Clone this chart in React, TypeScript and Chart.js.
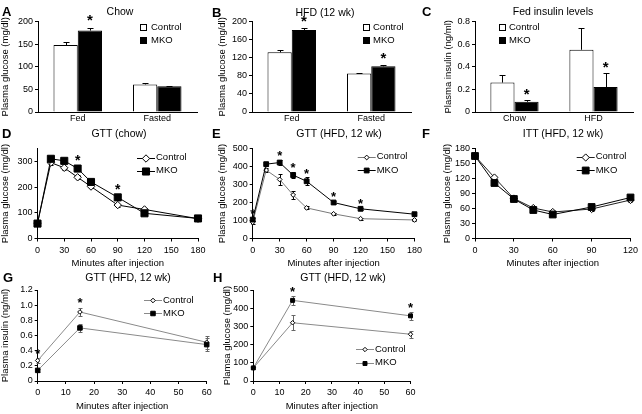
import React, { useEffect, useRef } from "react";
import { Chart, registerables } from "chart.js";

Chart.register(...registerables);

const FONT = "'Liberation Sans', Arial, Helvetica, sans-serif";

// ---------------- data ----------------
// A: Chow
const chowCategories = ["Fed", "Fasted"];
const chowControl = [148, 61];
const chowControlErr = [6, 3];
const chowMKO = [180, 57];
const chowMKOErr = [6, 1];
const chowStars = ["Fed"];

// B: HFD (12 wk)
const hfdCategories = ["Fed", "Fasted"];
const hfdControl = [132, 85];
const hfdControlErr = [4, 1.5];
const hfdMKO = [181, 101];
const hfdMKOErr = [5, 3];
const hfdStars = ["Fed", "Fasted"];

// C: Fed insulin levels
const insulinCategories = ["Chow", "HFD"];
const insulinControl = [0.26, 0.55];
const insulinControlErr = [0.065, 0.19];
const insulinMKO = [0.09, 0.22];
const insulinMKOErr = [0.02, 0.125];
const insulinStars = ["Chow", "HFD"];

// D: GTT (chow)
const gttTimes = [0, 15, 30, 45, 60, 90, 120, 180];
const gttChowControl = [60, 295, 275, 238, 202, 130, 113, 77];
const gttChowControlErr = [5, 8, 8, 8, 6, 6, 6, 4];
const gttChowMKO = [58, 310, 302, 272, 220, 160, 98, 78];
const gttChowMKOErr = [5, 8, 8, 10, 8, 10, 6, 4];
const gttChowStars = [45, 90];

// E: GTT (HFD, 12 wk)
const gttHfdControl = [90, 380, 328, 242, 170, 137, 110, 103];
const gttHfdControlErr = [8, 12, 28, 22, 8, 6, 5, 5];
const gttHfdMKO = [105, 413, 422, 352, 318, 200, 165, 135];
const gttHfdMKOErr = [10, 12, 15, 18, 22, 8, 6, 6];
const gttHfdStars = [0, 30, 45, 60, 90, 120];

// F: ITT (HFD, 12 wk)
const ittTimes = [0, 15, 30, 45, 60, 90, 120];
const ittControl = [165, 122, 80, 61, 53, 59, 77];
const ittControlErr = [4, 4, 3, 3, 3, 3, 3];
const ittMKO = [165, 111, 79, 57, 48, 63, 82];
const ittMKOErr = [4, 4, 3, 3, 3, 3, 3];

// G: GTT insulin (HFD, 12 wk)
const shortTimes = [0, 15, 60];
const gttInsulinControl = [0.27, 0.91, 0.51];
const gttInsulinControlErr = [0.03, 0.05, 0.09];
const gttInsulinMKO = [0.14, 0.7, 0.48];
const gttInsulinMKOErr = [0.02, 0.05, 0.09];
const gttInsulinStars = [0, 15];

// H: GTT glucose (HFD, 12 wk)
const gttGlucoseControl = [72, 320, 257];
const gttGlucoseControlErr = [5, 40, 20];
const gttGlucoseMKO = [72, 443, 358];
const gttGlucoseMKOErr = [5, 26, 22];
const gttGlucoseStars = [15, 60];

// ---------------- plugins ----------------
function drawMarker(ctx: any, style: string, r: number, x: number, y: number, fill: string, stroke: string) {
  ctx.beginPath();
  if (style === "rect") {
    const s = Math.SQRT1_2 * r;
    ctx.rect(x - s, y - s, 2 * s, 2 * s);
  } else {
    ctx.moveTo(x - r, y);
    ctx.lineTo(x, y - r);
    ctx.lineTo(x + r, y);
    ctx.lineTo(x, y + r);
    ctx.closePath();
  }
  ctx.fillStyle = fill;
  ctx.fill();
  ctx.strokeStyle = stroke;
  ctx.lineWidth = 1;
  ctx.stroke();
}

const errorBarsPlugin = {
  id: "errorBars",
  beforeDatasetsDraw(chart: any) {
    const { ctx } = chart;
    const yScale = chart.scales.y;
    chart.data.datasets.forEach((ds: any, i: number) => {
      if (!ds.errors) return;
      const meta = chart.getDatasetMeta(i);
      ctx.save();
      ctx.strokeStyle = ds.errorColor || "#000";
      ctx.lineWidth = 1;
      meta.data.forEach((el: any, j: number) => {
        const d = ds.data[j];
        const v = typeof d === "number" ? d : d.y;
        const e = ds.errors[j];
        if (!e) return;
        const x = Math.round(el.x) + 0.5;
        const yTop = Math.round(yScale.getPixelForValue(v + e)) + 0.5;
        const yBot = ds.errorBoth
          ? Math.round(yScale.getPixelForValue(v - e)) + 0.5
          : yScale.getPixelForValue(v);
        const cap = ds.errorCap ?? 3;
        ctx.beginPath();
        ctx.moveTo(x, yTop);
        ctx.lineTo(x, yBot);
        ctx.moveTo(x - cap, yTop);
        ctx.lineTo(x + cap, yTop);
        if (ds.errorBoth) {
          ctx.moveTo(x - cap, yBot);
          ctx.lineTo(x + cap, yBot);
        }
        ctx.stroke();
      });
      ctx.restore();
    });
  },
};

const starsPlugin = {
  id: "sigStars",
  afterDatasetsDraw(chart: any, _args: any, opts: any) {
    if (!opts || !opts.at || !opts.at.length) return;
    const { ctx } = chart;
    const yScale = chart.scales.y;
    ctx.save();
    ctx.font = `bold ${opts.size}px ${FONT}`;
    ctx.fillStyle = "#000";
    ctx.textAlign = "center";
    ctx.textBaseline = "alphabetic";
    opts.at.forEach((key: any) => {
      let px = 0;
      let top = -Infinity;
      chart.data.datasets.forEach((ds: any, i: number) => {
        if (opts.datasets && !opts.datasets.includes(i)) return;
        const meta = chart.getDatasetMeta(i);
        ds.data.forEach((d: any, j: number) => {
          const xv = typeof d === "number" ? chart.data.labels[j] : d.x;
          if (xv !== key) return;
          const v = (typeof d === "number" ? d : d.y) + (ds.errors ? ds.errors[j] : 0);
          if (v > top) {
            top = v;
            px = meta.data[j].x;
          }
        });
      });
      if (top === -Infinity) return;
      const py = yScale.getPixelForValue(top) - opts.offset;
      ctx.fillText("*", px, py + opts.size * 0.56);
    });
    ctx.restore();
  },
};

const panelLegendPlugin = {
  id: "panelLegend",
  afterDraw(chart: any, _args: any, opts: any) {
    if (!opts || opts.x === undefined) return;
    const { ctx, chartArea } = chart;
    ctx.save();
    ctx.font = `${opts.size}px ${FONT}`;
    ctx.textBaseline = "middle";
    ctx.textAlign = "left";
    chart.data.datasets.forEach((ds: any, i: number) => {
      const x = chartArea.left + opts.x;
      const y = chartArea.top + opts.y + i * opts.gap;
      let tx = x;
      if (opts.kind === "box") {
        const s = opts.box;
        const bx = Math.round(x);
        const by = Math.round(y - s / 2);
        ctx.fillStyle = ds.backgroundColor;
        ctx.fillRect(bx, by, s, s);
        ctx.strokeStyle = "#000";
        ctx.lineWidth = 1;
        ctx.strokeRect(bx + 0.5, by + 0.5, s - 1, s - 1);
        tx = bx + s + opts.textGap;
      } else {
        const len = opts.line;
        const yy = Math.round(y) + 0.5;
        ctx.strokeStyle = ds.borderColor;
        ctx.lineWidth = 1;
        ctx.beginPath();
        ctx.moveTo(x, yy);
        ctx.lineTo(x + len, yy);
        ctx.stroke();
        drawMarker(ctx, ds.pointStyle, ds.pointRadius, x + len / 2, yy, ds.pointBackgroundColor, ds.pointBorderColor);
        tx = x + len + opts.textGap;
      }
      ctx.fillStyle = "#000";
      ctx.fillText(ds.label, tx, y);
    });
    ctx.restore();
  },
};

// ---------------- helpers ----------------
type Box = {
  cx: number; cy: number; cw: number; ch: number;
  padL: number; padT: number; padR: number; padB: number;
  yW: number; xH: number;
};

const decimalFmt = (v: any) => (Number(v) === 0 ? "0" : Number(v).toFixed(1));

const tickFont = { size: 9, family: FONT, weight: "normal" };
const titleFont = { size: 9.5, family: FONT, weight: "normal" };

function yAxis(min: number, max: number, step: number, title: string, box: Box, fmt?: (v: any) => string) {
  const ticks: any = { stepSize: step, color: "#000", font: tickFont, padding: 2 };
  if (fmt) ticks.callback = fmt;
  return {
    type: "linear",
    min,
    max,
    ticks,
    grid: { drawOnChartArea: false, drawTicks: true, tickLength: 3, color: "#000", tickColor: "#000" },
    border: { display: true, color: "#000", width: 1 },
    title: {
      display: true,
      text: title,
      color: "#000",
      font: titleFont,
      padding: { top: 0, bottom: 0 },
    },
    afterFit: (s: any) => {
      s.width = box.yW;
    },
  };
}

function xLinear(max: number, step: number, box: Box, pad: number) {
  return {
    type: "linear",
    min: 0,
    max,
    ticks: { stepSize: step, color: "#000", font: tickFont, padding: pad, maxRotation: 0 },
    grid: { drawOnChartArea: false, drawTicks: true, tickLength: 3, color: "#000", tickColor: "#000" },
    border: { display: true, color: "#000", width: 1 },
    title: {
      display: true,
      text: "Minutes after injection",
      color: "#000",
      font: titleFont,
      padding: { top: 0, bottom: 0 },
    },
    afterFit: (s: any) => {
      s.height = box.xH;
    },
  };
}

function xCategory(box: Box) {
  return {
    type: "category",
    ticks: { color: "#000", font: tickFont, padding: 1.5, maxRotation: 0 },
    grid: { display: false, drawTicks: false },
    border: { display: true, color: "#000", width: 1 },
    afterFit: (s: any) => {
      s.height = box.xH;
    },
  };
}

function baseOptions(box: Box) {
  return {
    responsive: false,
    animation: false,
    events: [],
    layout: { padding: { left: box.padL, top: box.padT, right: box.padR, bottom: box.padB } },
  };
}

function barConfig(
  box: Box,
  labels: string[],
  ctrl: number[],
  ctrlErr: number[],
  mko: number[],
  mkoErr: number[],
  stars: string[],
  y: any,
  legend: any,
  starOffset: number
) {
  return {
    type: "bar",
    data: {
      labels,
      datasets: [
        {
          label: "Control",
          data: ctrl,
          errors: ctrlErr,
          errorCap: 3,
          backgroundColor: "#ffffff",
          borderColor: "#000000",
          borderWidth: 1,
          categoryPercentage: 0.61,
          barPercentage: 1,
        },
        {
          label: "MKO",
          data: mko,
          errors: mkoErr,
          errorCap: 3,
          backgroundColor: "#000000",
          borderColor: "#000000",
          borderWidth: 1,
          categoryPercentage: 0.61,
          barPercentage: 1,
        },
      ],
    },
    options: {
      ...baseOptions(box),
      scales: { x: xCategory(box), y },
      plugins: {
        legend: { display: false },
        tooltip: { enabled: false },
        title: { display: false },
        panelLegend: { kind: "box", size: 9.5, box: 7, textGap: 4, gap: 13, ...legend },
        sigStars: { at: stars, datasets: [1], offset: starOffset, size: 15 },
      },
    },
    plugins: [errorBarsPlugin, starsPlugin, panelLegendPlugin],
  };
}

type LineStyle = { line: string; r: number; err: string; cap: number };

function lineConfig(
  box: Box,
  times: number[],
  ctrl: number[],
  ctrlErr: number[],
  mko: number[],
  mkoErr: number[],
  stars: number[],
  x: any,
  y: any,
  legend: any,
  cs: LineStyle,
  ms: LineStyle,
  starOffset: number,
  starSize: number
) {
  const mk = (label: string, vals: number[], errs: number[], st: LineStyle, style: string, fill: string, order: number) => ({
    label,
    data: times.map((t, i) => ({ x: t, y: vals[i] })),
    errors: errs,
    errorBoth: true,
    errorColor: st.err,
    errorCap: st.cap,
    borderColor: st.line,
    borderWidth: 1,
    pointStyle: style,
    pointRadius: st.r,
    pointHoverRadius: st.r,
    pointBackgroundColor: fill,
    pointBorderColor: "#000000",
    pointBorderWidth: 1,
    fill: false,
    tension: 0,
    clip: false,
    order,
  });
  return {
    type: "line",
    data: {
      datasets: [
        mk("Control", ctrl, ctrlErr, cs, "rectRot", "#ffffff", 1),
        mk("MKO", mko, mkoErr, ms, "rect", "#000000", 0),
      ],
    },
    options: {
      ...baseOptions(box),
      scales: { x, y },
      plugins: {
        legend: { display: false },
        tooltip: { enabled: false },
        title: { display: false },
        panelLegend: { kind: "line", size: 9.5, line: 18, textGap: 1, ...legend },
        sigStars: { at: stars, offset: starOffset, size: starSize },
      },
    },
    plugins: [errorBarsPlugin, starsPlugin, panelLegendPlugin],
  };
}

// ---------------- layout boxes ----------------
const boxA: Box = { cx: 0, cy: 0, cw: 212, ch: 130, padL: 0, padT: 21.5, padR: 15, padB: 0, yW: 38, xH: 18 };
const boxB: Box = { cx: 212, cy: 0, cw: 212, ch: 130, padL: 5, padT: 21.5, padR: 13, padB: 0, yW: 35, xH: 18 };
const boxC: Box = { cx: 424, cy: 0, cw: 218, ch: 130, padL: 19, padT: 21.5, padR: 9, padB: 0, yW: 32, xH: 18 };
const boxD: Box = { cx: 0, cy: 130, cw: 212, ch: 140, padL: 0, padT: 18.5, padR: 14, padB: 1, yW: 37.5, xH: 30.5 };
const boxE: Box = { cx: 212, cy: 130, cw: 214, ch: 140, padL: 5, padT: 18.5, padR: 11, padB: 1, yW: 35.7, xH: 30.5 };
const boxF: Box = { cx: 426, cy: 130, cw: 216, ch: 140, padL: 16, padT: 18.5, padR: 11, padB: 1, yW: 33, xH: 30.5 };
const boxG: Box = { cx: 0, cy: 270, cw: 216, ch: 144, padL: 0, padT: 20, padR: 9.3, padB: 2.3, yW: 37.7, xH: 30.7 };
const boxH: Box = { cx: 212, cy: 270, cw: 218, ch: 144, padL: 9.7, padT: 20, padR: 19.5, padB: 2.3, yW: 31.6, xH: 30.7 };

const blackBig = (r: number): LineStyle => ({ line: "#000000", r, err: "#000000", cap: 2 });
const greyLine = (r: number): LineStyle => ({ line: "#8a8a8a", r, err: "#666666", cap: 2 });

const panels: { box: Box; make: () => any }[] = [
  {
    box: boxA,
    make: () =>
      barConfig(boxA, chowCategories, chowControl, chowControlErr, chowMKO, chowMKOErr, chowStars,
        yAxis(0, 200, 50, "Plasma glucose (mg/dl)", boxA), { x: 102, y: 6 }, 11),
  },
  {
    box: boxB,
    make: () =>
      barConfig(boxB, hfdCategories, hfdControl, hfdControlErr, hfdMKO, hfdMKOErr, hfdStars,
        yAxis(0, 200, 40, "Plasma glucose (mg/dl)", boxB), { x: 111, y: 6, textGap: 3 }, 10),
  },
  {
    box: boxC,
    make: () =>
      barConfig(boxC, insulinCategories, insulinControl, insulinControlErr, insulinMKO, insulinMKOErr, insulinStars,
        yAxis(0, 0.8, 0.2, "Plasma insulin (ng/ml)", boxC, decimalFmt), { x: 24, y: 5.5, textGap: 3 }, 9),
  },
  {
    box: boxD,
    make: () =>
      lineConfig(boxD, gttTimes, gttChowControl, gttChowControlErr, gttChowMKO, gttChowMKOErr, gttChowStars,
        xLinear(180, 30, boxD, 4), yAxis(0, 350, 50, "Plasma glucose (mg/dl)", boxD),
        { x: 99.5, y: 9.2, gap: 12.8 }, blackBig(3.7), blackBig(5), 9, 14),
  },
  {
    box: boxE,
    make: () =>
      lineConfig(boxE, gttTimes, gttHfdControl, gttHfdControlErr, gttHfdMKO, gttHfdMKOErr, gttHfdStars,
        xLinear(180, 30, boxE, 4), yAxis(0, 500, 100, "Plasma glucose (mg/dl)", boxE),
        { x: 105, y: 8.2, gap: 13.3 },
        { line: "#7a7a7a", r: 2.4, err: "#000000", cap: 2 }, { line: "#000000", r: 3.4, err: "#000000", cap: 2 }, 7, 13),
  },
  {
    box: boxF,
    make: () =>
      lineConfig(boxF, ittTimes, ittControl, ittControlErr, ittMKO, ittMKOErr, [],
        xLinear(120, 30, boxF, 4), yAxis(0, 180, 30, "Plasma glucose (mg/dl)", boxF),
        { x: 101.7, y: 8.2, gap: 13.3 }, { line: "#222222", r: 3.6, err: "#000000", cap: 2 }, blackBig(4.8), 8, 13),
  },
  {
    box: boxG,
    make: () =>
      lineConfig(boxG, shortTimes, gttInsulinControl, gttInsulinControlErr, gttInsulinMKO, gttInsulinMKOErr, gttInsulinStars,
        xLinear(60, 10, boxG, 3), yAxis(0, 1.2, 0.2, "Plasma insulin (ng/ml)", boxG, decimalFmt),
        { x: 106.3, y: 10, gap: 13.3 }, greyLine(2.3), greyLine(3.2), 8, 13),
  },
  {
    box: boxH,
    make: () =>
      lineConfig(boxH, shortTimes, gttGlucoseControl, gttGlucoseControlErr, gttGlucoseMKO, gttGlucoseMKOErr, gttGlucoseStars,
        xLinear(60, 10, boxH, 3), yAxis(0, 500, 100, "Plamsa glucose (mg/dl)", boxH),
        { x: 102.7, y: 59.3, gap: 13.4 }, greyLine(2.2), greyLine(2.8), 7, 13),
  },
];

const letters: [string, number, number][] = [
  ["A", 2, 11], ["B", 212, 12], ["C", 422, 11],
  ["D", 2, 133], ["E", 212, 133], ["F", 422, 133],
  ["G", 3, 277], ["H", 213, 277],
];

const titles: [string, number, number][] = [
  ["Chow", 120, 11],
  ["HFD (12 wk)", 325, 12],
  ["Fed insulin levels", 553, 11],
  ["GTT (chow)", 119, 133],
  ["GTT (HFD, 12 wk)", 339, 133],
  ["ITT (HFD, 12 wk)", 563, 133],
  ["GTT (HFD, 12 wk)", 128, 277],
  ["GTT (HFD, 12 wk)", 343, 277],
];

// ---------------- components ----------------
function ChartPanel({ box, make }: { box: Box; make: () => any }) {
  const ref = useRef<HTMLCanvasElement | null>(null);
  useEffect(() => {
    if (!ref.current) return;
    const chart = new Chart(ref.current, make());
    return () => chart.destroy();
  }, []);
  return (
    <canvas
      ref={ref}
      width={box.cw}
      height={box.ch}
      style={{ position: "absolute", left: box.cx, top: box.cy, width: box.cw, height: box.ch }}
    />
  );
}

export default function App() {
  return (
    <div
      style={{
        position: "absolute",
        left: 0,
        top: 0,
        width: 642,
        height: 414,
        background: "#ffffff",
        overflow: "hidden",
        fontFamily: FONT,
        color: "#000",
      }}
    >
      {panels.map((p, i) => (
        <ChartPanel key={i} box={p.box} make={p.make} />
      ))}
      {letters.map(([t, x, y]) => (
        <div
          key={t}
          style={{
            position: "absolute",
            left: x,
            top: y,
            transform: "translateY(-50%)",
            font: `bold 13px ${FONT}`,
            lineHeight: "13px",
            whiteSpace: "nowrap",
          }}
        >
          {t}
        </div>
      ))}
      {titles.map(([t, x, y], i) => (
        <div
          key={i}
          style={{
            position: "absolute",
            left: x,
            top: y,
            transform: "translate(-50%, -50%)",
            font: `10.5px ${FONT}`,
            lineHeight: "12px",
            whiteSpace: "nowrap",
          }}
        >
          {t}
        </div>
      ))}
    </div>
  );
}
